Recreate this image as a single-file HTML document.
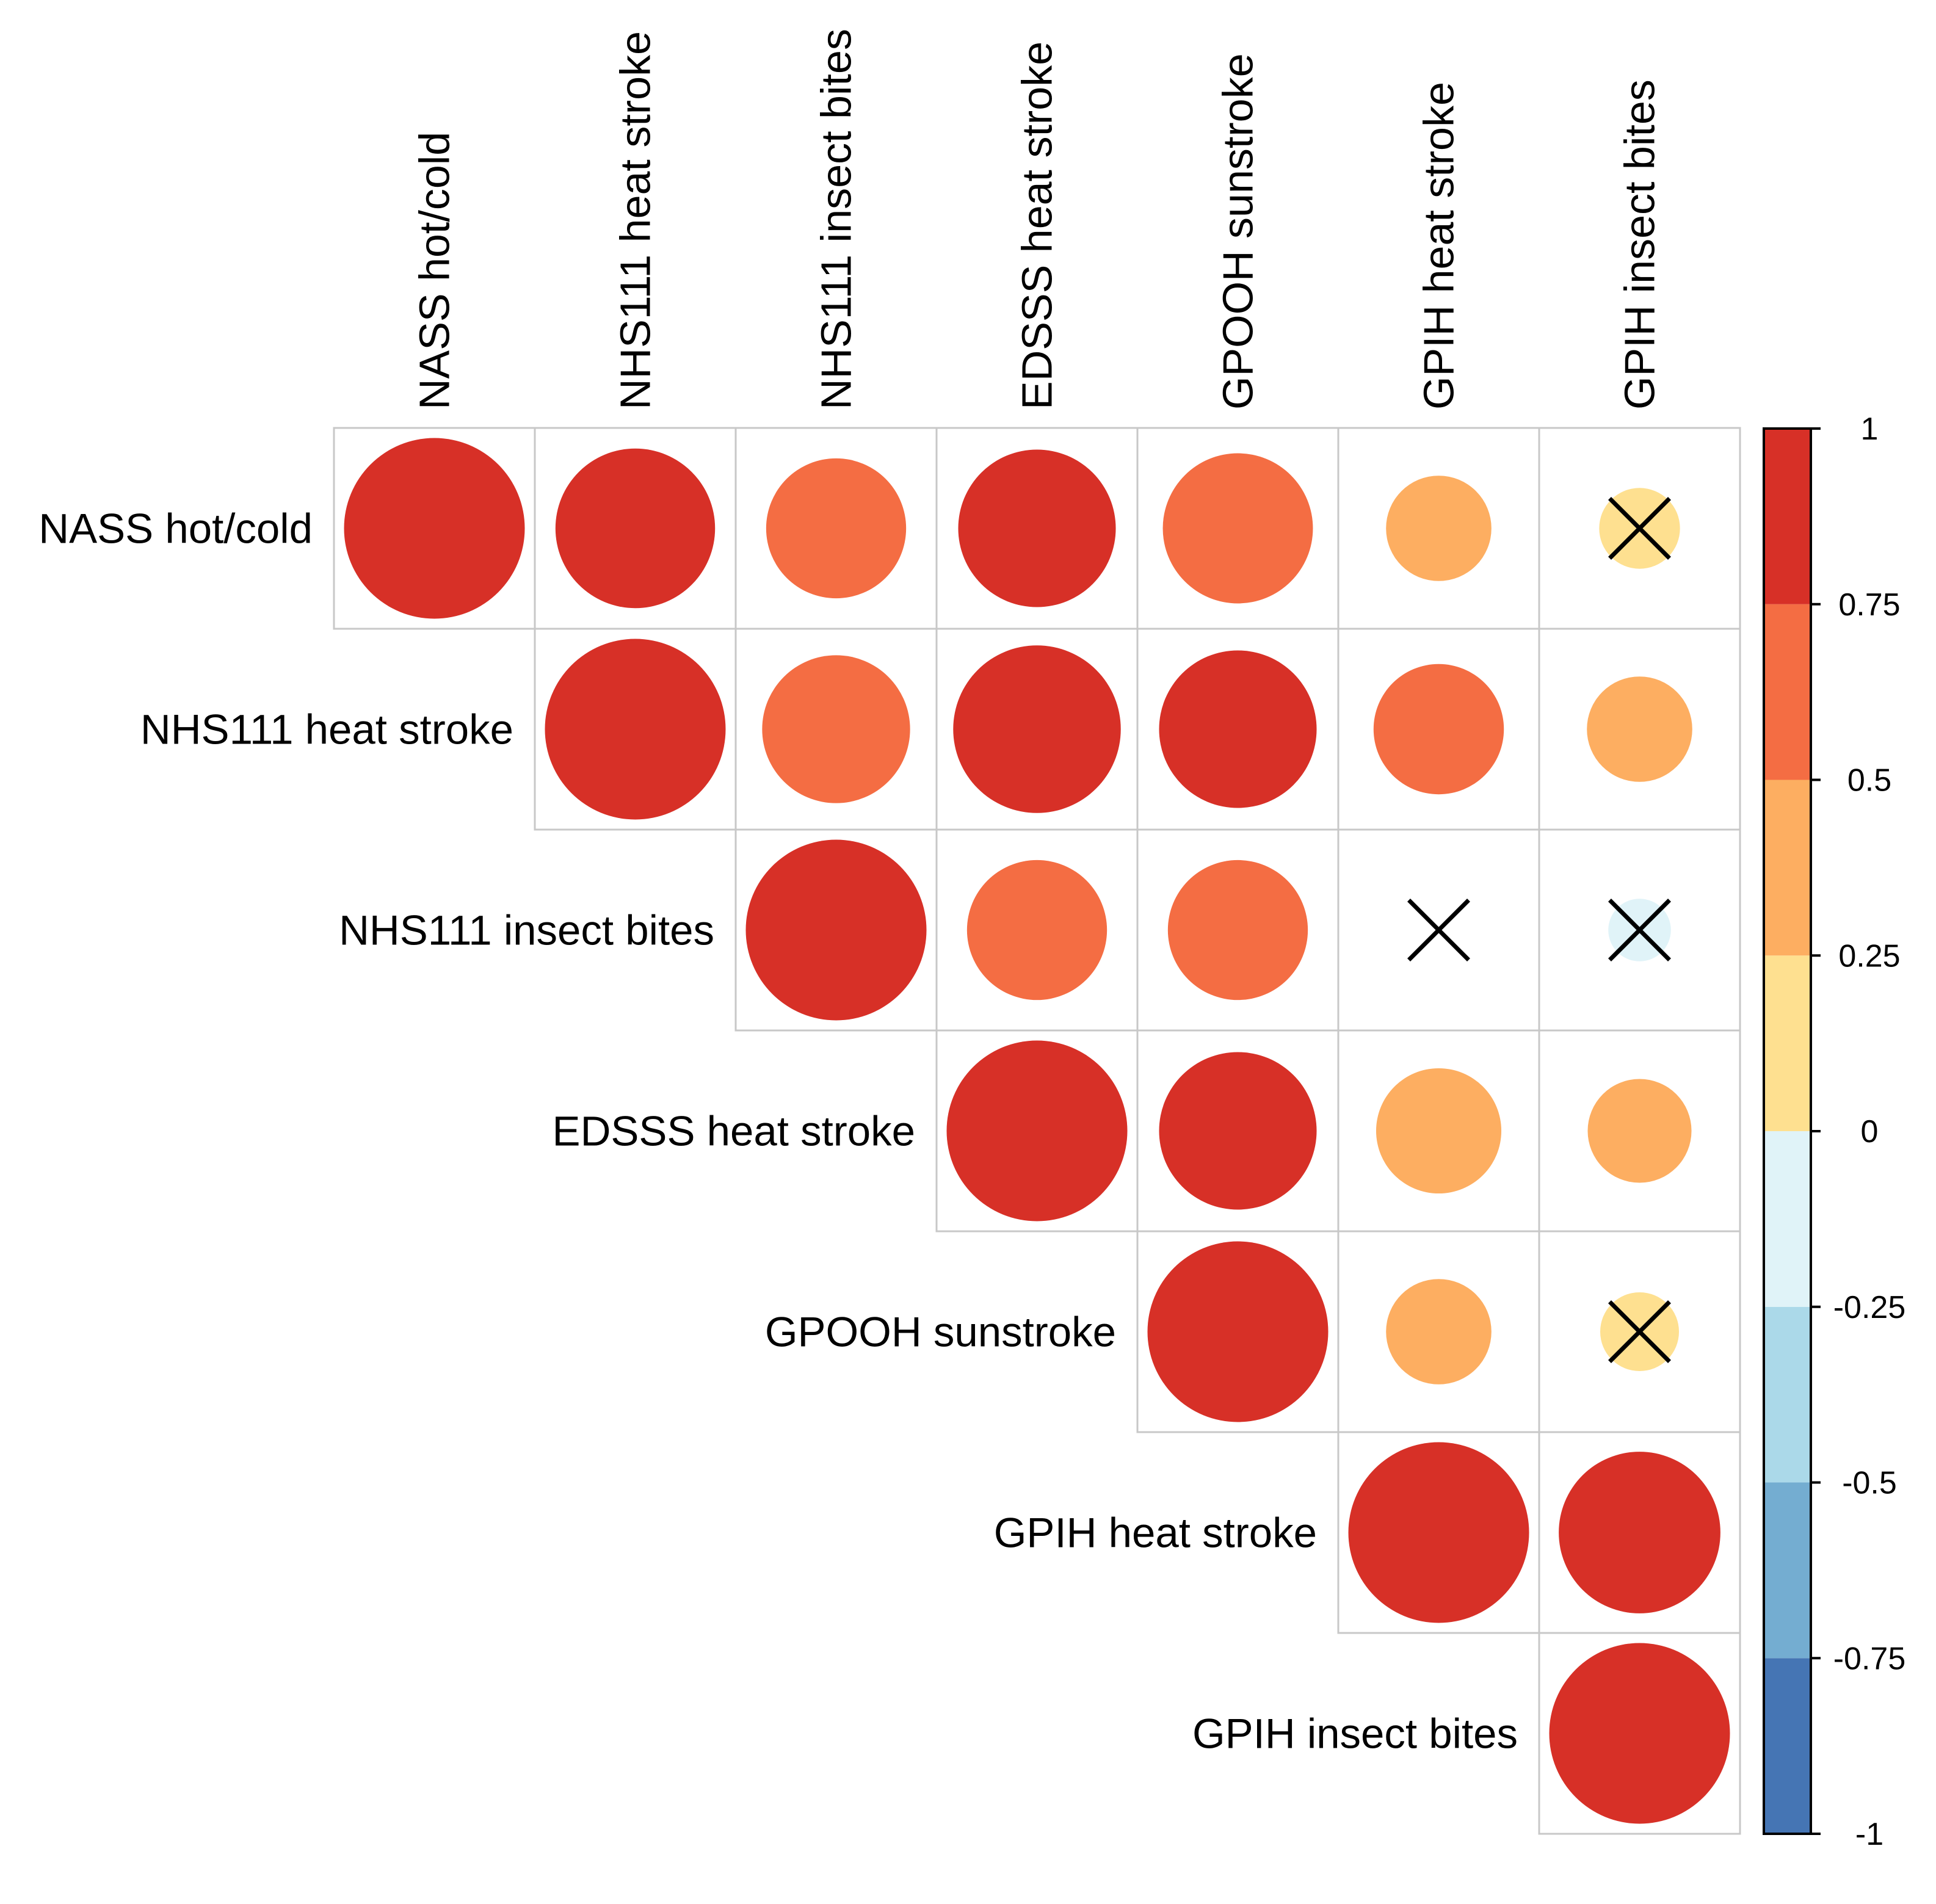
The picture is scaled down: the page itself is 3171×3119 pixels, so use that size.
<!DOCTYPE html>
<html><head><meta charset="utf-8"><style>
html,body{margin:0;padding:0;background:#fff;}
svg{display:block;}
text{font-family:"Liberation Sans",Arial,sans-serif;fill:#000;}
</style></head><body>
<svg id="chart" width="3171" height="3119" viewBox="0 0 3171 3119" xmlns="http://www.w3.org/2000/svg">
<g id="grid"></g><g id="marks"></g><g id="labels"></g><g id="legend"></g>
</svg>
<script>
const variables = ["NASS hot/cold","NHS111 heat stroke","NHS111 insect bites","EDSSS heat stroke","GPOOH sunstroke","GPIH heat stroke","GPIH insect bites"];
const row0 = [1, 0.78, 0.60, 0.76, 0.69, 0.34, 0.20];
const row1 = [1, 0.67, 0.86, 0.76, 0.52, 0.34];
const row2 = [1, 0.60, 0.60, 0.0, -0.12];
const row3 = [1, 0.76, 0.48, 0.33];
const row4 = [1, 0.34, 0.19];
const row5 = [1, 0.80];
const row6 = [1];
const insignificant = [[0,6],[2,5],[2,6],[4,6]];
const legendTicks = ["1","0.75","0.5","0.25","0","-0.25","-0.5","-0.75","-1"];
const legendValues = [1,0.75,0.5,0.25,0,-0.25,-0.5,-0.75,-1];
const binColors = ["#4575B4","#74ADD1","#ABD9E9","#E0F3F8","#FEE090","#FDAE61","#F46D43","#D73027"];

const NS="http://www.w3.org/2000/svg";
const X0=547, Y0=701, CELL=329, RMAX=148;
const rows=[row0,row1,row2,row3,row4,row5,row6];
function cx(j){return X0+CELL*(j+0.5);}
function cy(i){return Y0+CELL*(i+0.5);}
function colorFor(v){let k=Math.floor((v+1)/0.25); if(k>7)k=7; if(k<0)k=0; return binColors[k];}
function mk(tag,attrs,parent){const e=document.createElementNS(NS,tag);for(const k in attrs)e.setAttribute(k,attrs[k]);parent.appendChild(e);return e;}
const grid=document.getElementById('grid'), marks=document.getElementById('marks'), labels=document.getElementById('labels'), legend=document.getElementById('legend');

for(let i=0;i<7;i++){
  for(let j=i;j<7;j++){
    const r=mk('rect',{x:X0+CELL*j,y:Y0+CELL*i,width:CELL,height:CELL,fill:'none',stroke:'#c8c8c8','stroke-width':3},grid);
    
    
    const v=rows[i][j-i];
    const rad=Math.sqrt(Math.abs(v))*RMAX;
    if(rad>0.5){
      const c=mk('circle',{cx:cx(j),cy:cy(i),r:rad,fill:colorFor(v)},marks);
      
      
    }
  }
}
insignificant.forEach(p=>{
  const x=cx(p[1]), y=cy(p[0]), h=49;
  const g=mk('g',{stroke:'#000','stroke-width':7},marks);
  
  
  mk('line',{x1:x-h,y1:y-h,x2:x+h,y2:y+h},g);
  mk('line',{x1:x-h,y1:y+h,x2:x+h,y2:y-h},g);
});
variables.forEach((name,i)=>{
  const t=mk('text',{x:X0+CELL*i-35,y:cy(i)+24,'text-anchor':'end','font-size':69},labels);
  t.textContent=name;
  
  
  const c=mk('text',{x:0,y:0,'text-anchor':'start','font-size':70,transform:`translate(${cx(i)+24},${Y0-30}) rotate(-90)`},labels);
  c.textContent=name;
  
  
});
const LX=2889, LW=77, LT=702, LB=3004;
function ly(v){return LB-(v+1)/2*(LB-LT);}
for(let k=0;k<8;k++){
  const v0=-1+k*0.25;
  const r=mk('rect',{x:LX,y:ly(v0+0.25),width:LW,height:ly(v0)-ly(v0+0.25),fill:binColors[k]},legend);
  
  
}
const fr=mk('rect',{x:LX,y:LT,width:LW,height:LB-LT,fill:'none',stroke:'#000','stroke-width':4},legend);


legendValues.forEach((v,k)=>{
  const y=ly(v);
  const tk=mk('line',{x1:LX+LW,y1:y,x2:LX+LW+16,y2:y,stroke:'#000','stroke-width':4},legend);
  
  
  const t=mk('text',{x:3062,y:y+18,'text-anchor':'middle','font-size':52},legend);
  t.textContent=legendTicks[k];
  
  
});
</script>
</body></html>
